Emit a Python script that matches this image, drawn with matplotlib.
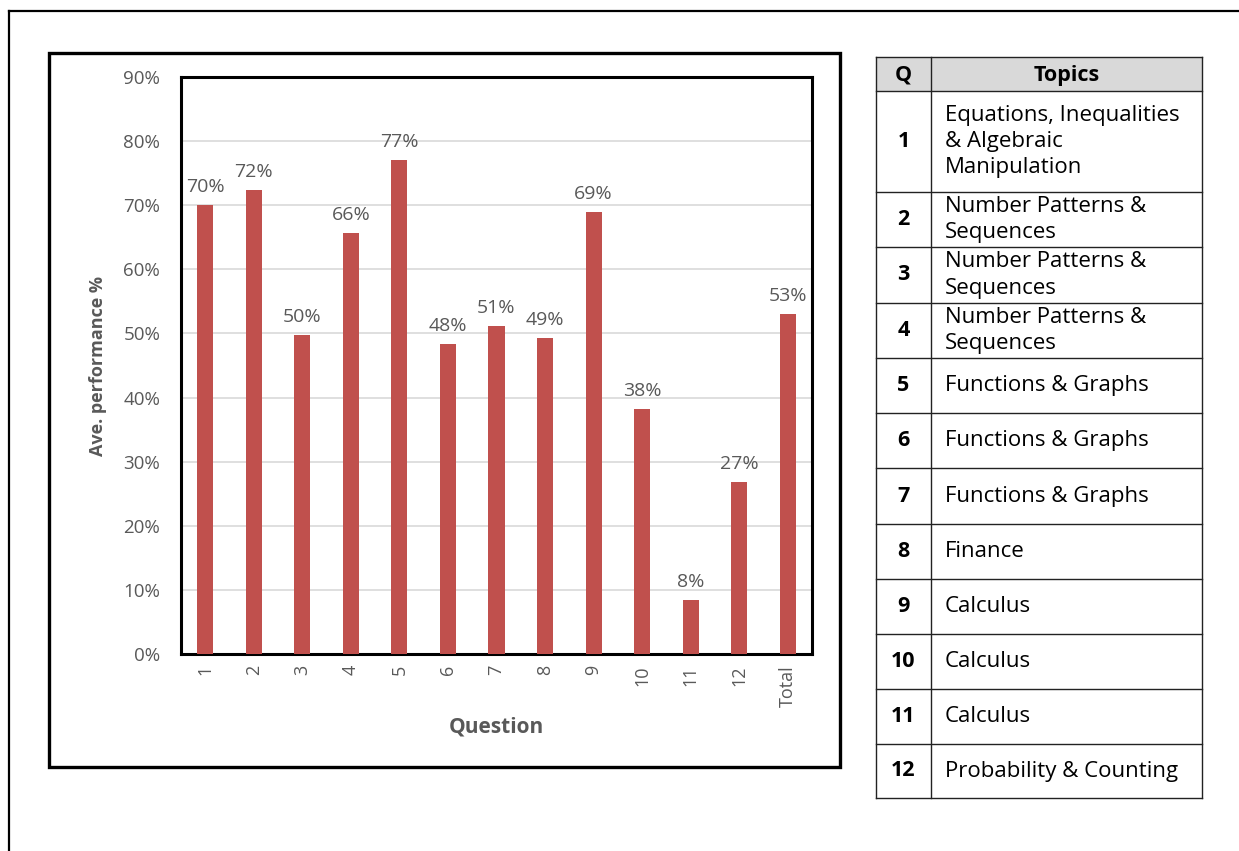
import matplotlib
matplotlib.use("Agg")
import matplotlib.pyplot as plt
from matplotlib.patches import Rectangle
from matplotlib.lines import Line2D

questions = ["1", "2", "3", "4", "5", "6", "7", "8", "9", "10", "11", "12", "Total"]
performance = [70, 72.4, 49.8, 65.7, 77.1, 48.4, 51.2, 49.3, 69.0, 38.2, 8.4, 26.8, 53.1]
value_labels = ["70%", "72%", "50%", "66%", "77%", "48%", "51%", "49%", "69%", "38%", "8%", "27%", "53%"]
y_ticks = [0, 10, 20, 30, 40, 50, 60, 70, 80, 90]

table_q = ["1", "2", "3", "4", "5", "6", "7", "8", "9", "10", "11", "12"]
table_topics = [
    "Equations, Inequalities\n& Algebraic\nManipulation",
    "Number Patterns &\nSequences",
    "Number Patterns &\nSequences",
    "Number Patterns &\nSequences",
    "Functions & Graphs",
    "Functions & Graphs",
    "Functions & Graphs",
    "Finance",
    "Calculus",
    "Calculus",
    "Calculus",
    "Probability & Counting",
]

W, H = 1239, 851
fig = plt.figure(figsize=(W / 100, H / 100), dpi=100)
fig.patch.set_facecolor("white")

def fx(x):
    return x / W

def fy(y):
    return 1 - y / H

GRAY = "#595959"
BAR = "#C0504D"
FONT = ["Open Sans", "DejaVu Sans"]

# outer frame lines
fig.add_artist(Line2D([fx(8.5), fx(1239)], [fy(10.5), fy(10.5)], color="black", lw=1.6, transform=fig.transFigure))
fig.add_artist(Line2D([fx(8.5), fx(8.5)], [fy(10.5), fy(851)], color="black", lw=1.6, transform=fig.transFigure))

# chart box
fig.add_artist(Rectangle((fx(49), fy(767)), fx(840) - fx(49), fy(53) - fy(767),
                         fill=False, edgecolor="black", lw=2.4, transform=fig.transFigure))

ax = fig.add_axes([fx(181), fy(654), fx(812) - fx(181), fy(77) - fy(654)])
x = list(range(len(questions)))
bars = ax.bar(x, performance, width=0.33, color=BAR, zorder=3)
ax.set_xlim(-0.5, len(questions) - 0.5)
ax.set_ylim(0, 90)
ax.set_yticks(y_ticks)
ax.set_yticklabels([f"{t}%" for t in y_ticks], fontsize=13.5, color=GRAY, family=FONT)
ax.set_xticks(x)
ax.set_xticklabels(questions, rotation=90, fontsize=13, color=GRAY, family=FONT)
ax.tick_params(axis="both", length=0)
ax.tick_params(axis="x", pad=8)
ax.tick_params(axis="y", pad=15)
ax.yaxis.grid(True, color="#D9D9D9", lw=1.2, zorder=0)
ax.set_axisbelow(True)
for s in ax.spines.values():
    s.set_color("black")
    s.set_linewidth(2.2)
for b, lab in zip(bars, value_labels):
    ax.annotate(lab, (b.get_x() + b.get_width() / 2, b.get_height()), xytext=(0, 6.5),
                textcoords="offset points", ha="center", va="bottom",
                fontsize=14, color=GRAY, family=FONT)
ax.set_ylabel("Ave. performance %", fontsize=13, fontweight="bold", color=GRAY, family=FONT)
ax.set_xlabel("Question", fontsize=15, fontweight="bold", color=GRAY, family=FONT)
ax.yaxis.set_label_coords(-0.1315, 0.5)
ax.xaxis.set_label_coords(0.5, -0.1265)
ax.xaxis.label.set_va("center")
ax.yaxis.label.set_va("center")

# table
tx0, tx1, tx2 = 876, 931, 1202
row_edges = [57, 91, 192, 247, 303, 358, 413, 468, 524, 579, 634, 689, 744, 798]
# header fill
fig.add_artist(Rectangle((fx(tx0), fy(row_edges[1])), fx(tx2) - fx(tx0), fy(row_edges[0]) - fy(row_edges[1]),
                         facecolor="#D9D9D9", edgecolor="none", transform=fig.transFigure))
for ye in row_edges:
    fig.add_artist(Line2D([fx(tx0), fx(tx2)], [fy(ye), fy(ye)], color="#222222", lw=1.0, transform=fig.transFigure))
for xe in (tx0, tx1, tx2):
    fig.add_artist(Line2D([fx(xe), fx(xe)], [fy(row_edges[0]), fy(row_edges[-1])], color="#222222", lw=1.0, transform=fig.transFigure))

fig.text(fx((tx0 + tx1) / 2), fy((row_edges[0] + row_edges[1]) / 2 + 1.5), "Q", ha="center", va="center",
         fontsize=15.5, fontweight="bold", color="black", family=FONT)
fig.text(fx((tx1 + tx2) / 2), fy((row_edges[0] + row_edges[1]) / 2 + 1.5), "Topics", ha="center", va="center",
         fontsize=15.5, fontweight="bold", color="black", family=FONT)
for i, (q, t) in enumerate(zip(table_q, table_topics)):
    yc = (row_edges[i + 1] + row_edges[i + 2]) / 2
    fig.text(fx((tx0 + tx1) / 2), fy(yc), q, ha="center", va="center",
             fontsize=15.5, fontweight="bold", color="black", family=FONT)
    fig.text(fx(tx1 + 14), fy(yc), t, ha="left", va="center", linespacing=1.33,
             fontsize=16, color="black", family=FONT)

fig.savefig("out.png", dpi=100)
